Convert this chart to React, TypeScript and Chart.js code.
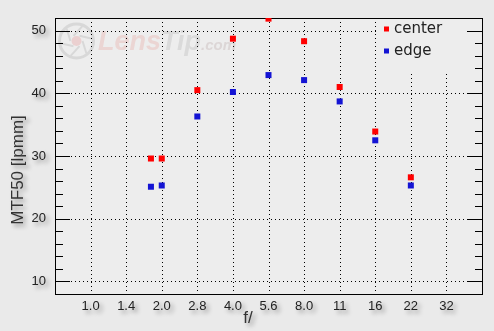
import React, { useEffect, useRef } from 'react';
import { Chart, registerables } from 'chart.js';

Chart.register(...registerables);

// f-number axis (nominal stops, one grid column each)
const fTickValues = [1.0, 1.4, 2.0, 2.8, 4.0, 5.6, 8.0, 11, 16, 22, 32];
const fTickLabels = ['1.0', '1.4', '2.0', '2.8', '4.0', '5.6', '8.0', '11', '16', '22', '32'];

// measured apertures
const apertures = [1.8, 2.0, 2.8, 4.0, 5.6, 8.0, 11, 16, 22];
const centerValues = [29.6, 29.6, 40.5, 48.7, 51.9, 48.3, 41.0, 33.9, 26.6];
const edgeValues = [25.1, 25.3, 36.3, 40.2, 42.9, 42.1, 38.7, 32.5, 25.3];

// y axis
const yMajorTicks = [10, 20, 30, 40, 50];
const yMinorTicks = [12, 14, 16, 18, 22, 24, 26, 28, 32, 34, 36, 38, 42, 44, 46, 48];

const seriesLabels = ['center', 'edge'];
const seriesColors = ['#ff0000', '#1414d4'];

// position on the stop axis: nominal stops sit on their column, others on log2 scale
const fPos = (f: number) => {
  const i = fTickValues.indexOf(f);
  return i >= 0 ? i : 2 * Math.log2(f);
};

const setShadow = (ctx: CanvasRenderingContext2D) => {
  ctx.shadowColor = 'rgba(0,0,0,0.38)';
  ctx.shadowBlur = 4;
  ctx.shadowOffsetX = 3;
  ctx.shadowOffsetY = 3;
};
const clearShadow = (ctx: CanvasRenderingContext2D) => {
  ctx.shadowColor = 'rgba(0,0,0,0)';
  ctx.shadowBlur = 0;
  ctx.shadowOffsetX = 0;
  ctx.shadowOffsetY = 0;
};

const framePlugin = {
  id: 'lensFrame',
  beforeDraw(chart: any) {
    const { ctx, chartArea: a, width, height } = chart;
    ctx.save();
    ctx.fillStyle = '#eaeaea';
    ctx.fillRect(0, 0, width, height);
    ctx.fillStyle = '#ededed';
    ctx.fillRect(a.left, a.top, a.right - a.left, a.bottom - a.top);

    // watermark
    ctx.strokeStyle = '#d8d8d8';
    ctx.lineWidth = 3;
    ctx.beginPath();
    ctx.arc(76.5, 41, 17, 0, Math.PI * 2);
    ctx.stroke();
    ctx.lineWidth = 2;
    for (let k = 0; k < 6; k++) {
      const ang = (k * Math.PI) / 3;
      ctx.beginPath();
      ctx.moveTo(76.5 + Math.cos(ang) * 6, 41 + Math.sin(ang) * 6);
      ctx.lineTo(76.5 + Math.cos(ang + 0.9) * 16, 41 + Math.sin(ang + 0.9) * 16);
      ctx.stroke();
    }
    ctx.fillStyle = '#ebd0d0';
    ctx.beginPath();
    ctx.arc(76.5, 41, 5, 0, Math.PI * 2);
    ctx.fill();
    ctx.textBaseline = 'alphabetic';
    ctx.textAlign = 'left';
    ctx.font = 'italic bold 27px "Liberation Sans"';
    ctx.fillStyle = '#ebd5d3';
    ctx.fillText('Lens', 98, 50);
    const lw = ctx.measureText('Lens').width;
    ctx.fillStyle = '#dadada';
    ctx.fillText('Tip', 98 + lw, 50);
    const tw = ctx.measureText('Tip').width;
    ctx.font = 'italic bold 15px "Liberation Sans"';
    ctx.fillStyle = '#dcd6d6';
    ctx.fillText('.com', 98 + lw + tw, 50);
    ctx.restore();

    // axis titles (with shadow like the original)
    ctx.save();
    setShadow(ctx);
    ctx.fillStyle = '#333';
    ctx.font = '17px "Liberation Sans"';
    ctx.textAlign = 'center';
    ctx.textBaseline = 'middle';
    ctx.save();
    ctx.translate(18, 170);
    ctx.rotate(-Math.PI / 2);
    ctx.fillText('MTF50 [lpmm]', 0, 0);
    ctx.restore();
    ctx.fillText('f/', 248, 318);
    ctx.restore();

    // shadow stays on for the tick labels drawn next by the scales
    setShadow(ctx);
  },
  beforeDatasetsDraw(chart: any) {
    const { ctx, chartArea: a } = chart;
    clearShadow(ctx);
    const xs = chart.scales.x;
    const ys = chart.scales.y;
    ctx.save();
    ctx.strokeStyle = '#000';
    ctx.lineWidth = 1;
    ctx.setLineDash([1, 3]);
    xs.ticks.forEach((t: any) => {
      const x = Math.round(xs.getPixelForValue(t.value)) + 0.5;
      ctx.beginPath();
      ctx.moveTo(x, a.top);
      ctx.lineTo(x, a.bottom);
      ctx.stroke();
    });
    ys.ticks.forEach((t: any) => {
      const y = Math.round(ys.getPixelForValue(t.value)) + 0.5;
      ctx.beginPath();
      ctx.moveTo(a.left, y);
      ctx.lineTo(a.right, y);
      ctx.stroke();
    });
    ctx.setLineDash([]);

    // legend box background masks the grid
    ctx.fillStyle = '#ededed';
    ctx.fillRect(377, a.top + 1, 90, 52);

    // tick marks
    ctx.strokeStyle = '#000';
    yMajorTicks.forEach((v) => {
      const y = Math.round(ys.getPixelForValue(v)) + 0.5;
      ctx.beginPath();
      ctx.moveTo(a.left, y);
      ctx.lineTo(a.left + 15, y);
      ctx.moveTo(a.right - 15, y);
      ctx.lineTo(a.right, y);
      ctx.stroke();
    });
    yMinorTicks.forEach((v) => {
      const y = Math.round(ys.getPixelForValue(v)) + 0.5;
      ctx.beginPath();
      ctx.moveTo(a.left, y);
      ctx.lineTo(a.left + 8, y);
      ctx.moveTo(a.right - 7, y);
      ctx.lineTo(a.right, y);
      ctx.stroke();
    });

    // frame
    ctx.strokeRect(a.left + 0.5, a.top + 0.5, a.right - a.left, a.bottom - a.top);
    ctx.restore();
  },
  afterDatasetsDraw(chart: any) {
    const { ctx } = chart;
    ctx.save();
    clearShadow(ctx);
    ctx.font = '15px "DejaVu Sans"';
    ctx.textAlign = 'left';
    ctx.textBaseline = 'middle';
    chart.data.datasets.forEach((ds: any, i: number) => {
      const y = 29 + i * 22;
      ctx.fillStyle = ds.backgroundColor;
      ctx.fillRect(384, y - 2.5, 5, 5);
      ctx.fillStyle = '#222';
      ctx.fillText(ds.label, 394, y);
    });
    ctx.restore();
  },
};

export default function App() {
  const ref = useRef<HTMLCanvasElement | null>(null);

  useEffect(() => {
    if (!ref.current) return;
    const seriesValues = [centerValues, edgeValues];
    const chart = new Chart(ref.current, {
      type: 'scatter',
      data: {
        datasets: seriesValues.map((vals, s) => ({
          label: seriesLabels[s],
          data: apertures.map((f, i) => ({ x: fPos(f), y: vals[i] })),
          backgroundColor: seriesColors[s],
          borderColor: seriesColors[s],
          borderWidth: 0,
          pointStyle: 'rect',
          pointRadius: 4.25,
          pointHoverRadius: 4.25,
        })),
      },
      options: {
        animation: false,
        responsive: false,
        devicePixelRatio: 1,
        events: [],
        layout: { padding: { top: 18, right: 12, left: 0, bottom: 0 } },
        plugins: {
          legend: { display: false },
          tooltip: { enabled: false },
        },
        scales: {
          x: {
            type: 'linear',
            min: -1,
            max: fTickLabels.length,
            afterBuildTicks: (s: any) => {
              s.ticks = fTickLabels.map((_, i) => ({ value: i }));
            },
            afterFit: (s: any) => {
              s.height = 37;
            },
            grid: { display: false, drawTicks: false },
            border: { display: false },
            ticks: {
              callback: (v: any) => fTickLabels[v] ?? '',
              font: { family: 'Liberation Sans', size: 13 },
              color: '#222',
              padding: 5,
              maxRotation: 0,
              autoSkip: false,
            },
          },
          y: {
            type: 'linear',
            min: 8,
            max: 52,
            afterBuildTicks: (s: any) => {
              s.ticks = yMajorTicks.map((v) => ({ value: v }));
            },
            afterFit: (s: any) => {
              s.width = 55;
            },
            grid: { display: false, drawTicks: false },
            border: { display: false },
            ticks: {
              font: { family: 'Liberation Sans', size: 13 },
              color: '#222',
              padding: 9,
            },
          },
        },
      },
      plugins: [framePlugin],
    } as any);
    return () => chart.destroy();
  }, []);

  return (
    <div style={{ position: 'fixed', left: 0, top: 0, width: 494, height: 331 }}>
      <canvas ref={ref} width={494} height={331} style={{ display: 'block' }} />
    </div>
  );
}
